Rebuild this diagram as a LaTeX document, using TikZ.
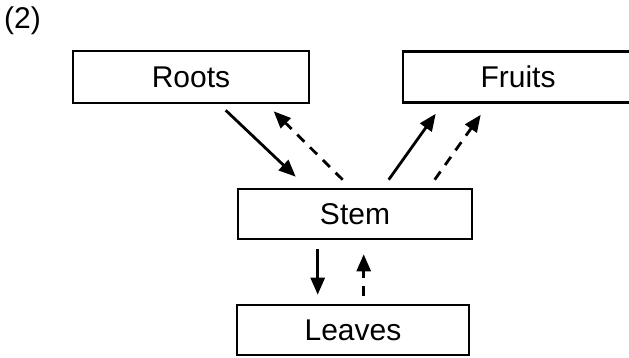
\documentclass[tikz,border=0pt]{standalone}
\usepackage{fontspec}
\setmainfont{Liberation Sans}
\usetikzlibrary{arrows.meta,calc}
\begin{document}
\begin{tikzpicture}[x=1pt,y=-1pt,
  box/.style={draw,line width=2.6pt,inner sep=0pt,font=\fontsize{30}{33}\selectfont},
  arr/.style={line width=2.8pt,-{Triangle[length=17pt,width=14pt]}},
  darr/.style={arr,dash pattern=on 10pt off 8pt}]
\useasboundingbox (0,0) rectangle (629,358);
\node[font=\fontsize{30}{33}\selectfont,anchor=north west,inner sep=0pt] (lbl) at (4,7) {(2)};
\node[box,minimum width=236pt,minimum height=52pt] (roots) at (191,77) {Roots};
\node[box,minimum width=230pt,minimum height=51pt] (fruits) at (518,77) {Fruits};
\node[box,minimum width=234pt,minimum height=50pt] (stem) at (355,214) {Stem};
\node[box,minimum width=232pt,minimum height=50pt] (leaves) at (353,330) {Leaves};
\draw[arr]  ($(roots.south west)+(154,6)$) -- ($(stem.north west)+(59,-11)$);
\draw[darr] ($(stem.north west)+(106,-8)$) -- ($(roots.south west)+(202,7)$);
\draw[arr]  ($(stem.north west)+(152,-8)$) -- ($(fruits.south west)+(34,10)$);
\draw[darr] ($(stem.north west)+(198,-8)$) -- ($(fruits.south west)+(79,11)$);
\draw[arr]  ($(stem.south west)+(81,9)$) -- ($(leaves.north west)+(82,-9)$);
\draw[darr] ($(leaves.north west)+(128,-8)$) -- ($(stem.south west)+(127,14)$);
\end{tikzpicture}
\end{document}
